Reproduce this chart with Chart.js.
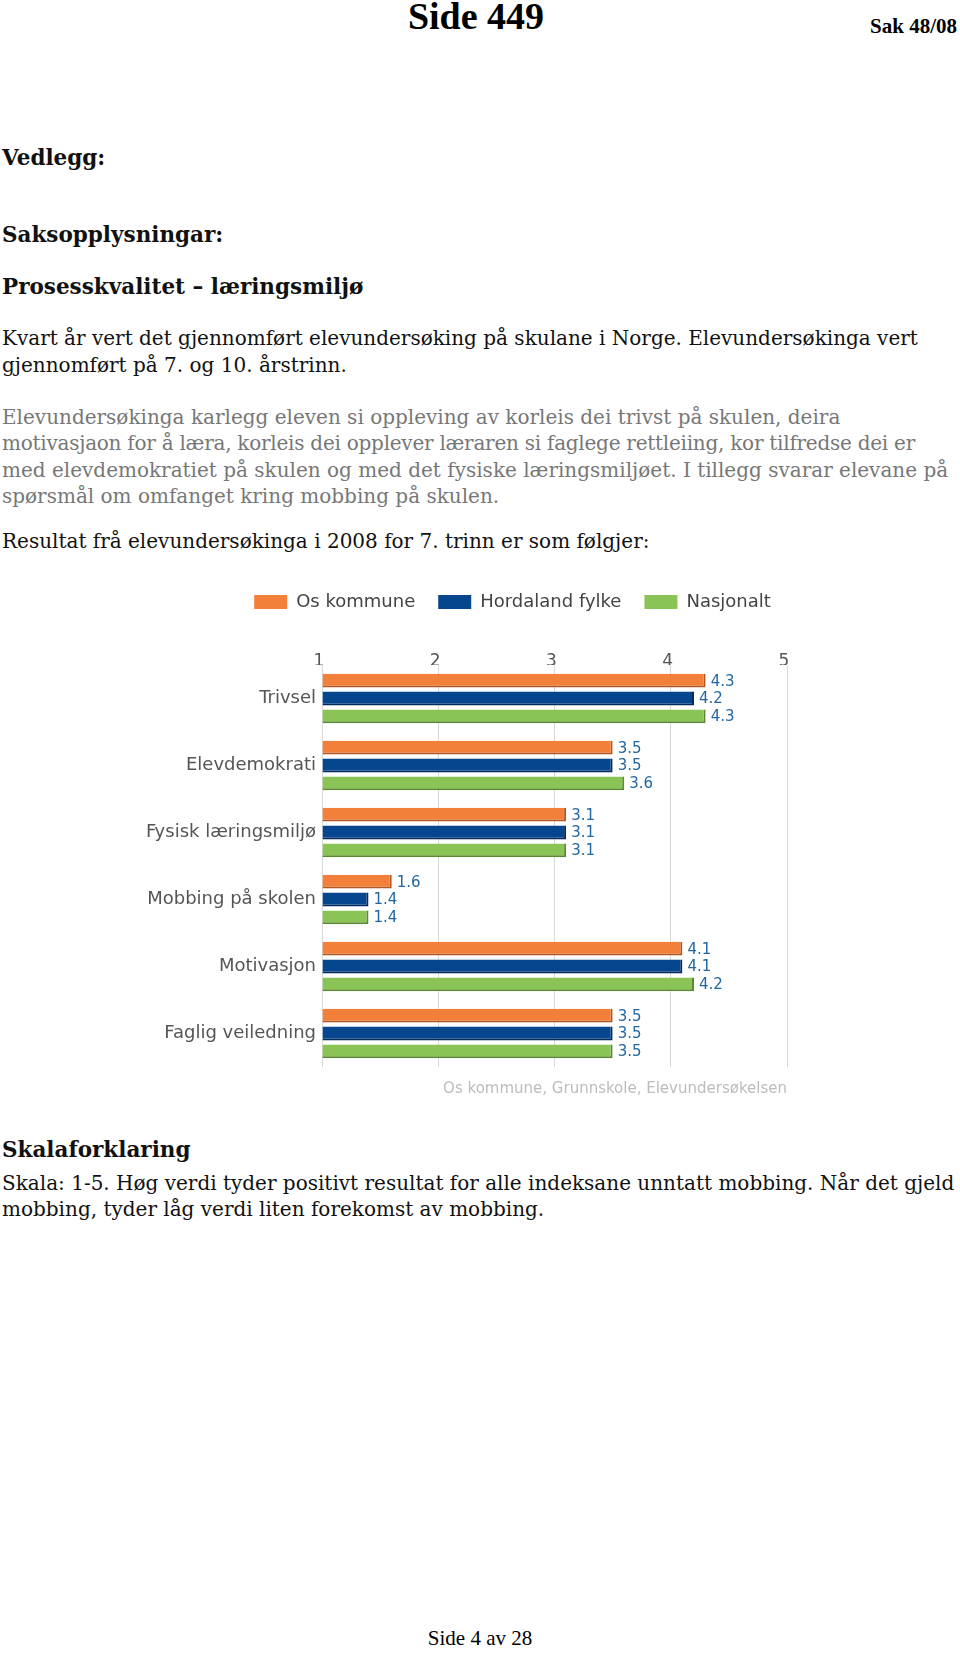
<!DOCTYPE html>
<html>
<head>
<meta charset="utf-8">
<script src="https://cdn.jsdelivr.net/npm/chart.js@4/dist/chart.umd.min.js"></script>
<style>
  html, body { margin: 0; padding: 0; background: #fff; }
  body { width: 960px; height: 1653px; position: relative; overflow: hidden; }
  .t { position: absolute; left: 2px; white-space: nowrap; font-family: "DejaVu Serif", serif; font-size: 20px; line-height: 26px; color: #111; }
  .b { font-weight: bold; font-size: 21.5px; }
  .g { color: #777; }
  .hdr { position: absolute; font-family: "Liberation Serif", serif; font-weight: bold; white-space: nowrap; color: #000; }
  #chartBox { position: absolute; left: 130px; top: 550px; width: 755px; height: 554px; }
</style>
</head>
<body>
<div class="hdr" style="left:0; width:952px; text-align:center; top:-6px; font-size:38px; line-height:44px;">Side 449</div>
<div class="hdr" style="right:3px; top:12px; font-size:21px; line-height:28px;">Sak 48/08</div>

<div class="t b" style="top:145px;">Vedlegg:</div>
<div class="t b" style="top:222px;">Saksopplysningar:</div>
<div class="t b" style="top:274px;">Prosesskvalitet – læringsmiljø</div>
<div class="t" style="top:325px;">Kvart år vert det gjennomført elevundersøking på skulane i Norge. Elevundersøkinga vert</div>
<div class="t" style="top:352px;">gjennomført på 7. og 10. årstrinn.</div>
<div class="t g" style="top:404px;">Elevundersøkinga karlegg eleven si oppleving av korleis dei trivst på skulen, deira</div>
<div class="t g" style="top:430px; letter-spacing:-0.25px;">motivasjaon for å læra, korleis dei opplever læraren si faglege rettleiing, kor tilfredse dei er</div>
<div class="t g" style="top:457px;">med elevdemokratiet på skulen og med det fysiske læringsmiljøet. I tillegg svarar elevane på</div>
<div class="t g" style="top:483px;">spørsmål om omfanget kring mobbing på skulen.</div>
<div class="t" style="top:528px;">Resultat frå elevundersøkinga i 2008 for 7. trinn er som følgjer:</div>

<div id="chartBox"><canvas id="c"></canvas></div>

<div class="t b" style="top:1137px;">Skalaforklaring</div>
<div class="t" style="top:1170px;">Skala: 1-5. Høg verdi tyder positivt resultat for alle indeksane unntatt mobbing. Når det gjeld</div>
<div class="t" style="top:1196px;">mobbing, tyder låg verdi liten forekomst av mobbing.</div>

<div style="position:absolute; left:0; width:960px; text-align:center; top:1624px; font-family:'Liberation Serif', serif; font-size:21px; line-height:28px;">Side 4 av 28</div>

<script>
const categories = ['Trivsel', 'Elevdemokrati', 'Fysisk læringsmiljø', 'Mobbing på skolen', 'Motivasjon', 'Faglig veiledning'];
const seriesNames = ['Os kommune', 'Hordaland fylke', 'Nasjonalt'];
const osKommune = [4.3, 3.5, 3.1, 1.6, 4.1, 3.5];
const hordalandFylke = [4.2, 3.5, 3.1, 1.4, 4.1, 3.5];
const nasjonalt = [4.3, 3.6, 3.1, 1.4, 4.2, 3.5];
const xTickValues = [1, 2, 3, 4, 5];
const sourceText = 'Os kommune, Grunnskole, Elevundersøkelsen';

const fills = ['#f2803b', '#05468e', '#8bc456'];
const edges = ['#b3561f', '#022a5c', '#5b8a33'];

const valueLabels = {
  id: 'valueLabels',
  afterDatasetsDraw(chart) {
    const ctx = chart.ctx;
    ctx.save();
    ctx.font = '15px "DejaVu Sans"';
    ctx.fillStyle = '#2367a2';
    ctx.textAlign = 'left';
    ctx.textBaseline = 'middle';
    chart.data.datasets.forEach((ds, di) => {
      const meta = chart.getDatasetMeta(di);
      meta.data.forEach((el, i) => {
        ctx.fillText(ds.data[i].toFixed(1), el.x + 5, el.y + 1);
      });
    });
    ctx.restore();
  }
};

const datasets = [osKommune, hordalandFylke, nasjonalt].map((vals, k) => ({
  label: seriesNames[k],
  data: vals,
  base: xTickValues[0],
  backgroundColor: fills[k],
  borderColor: edges[k],
  borderWidth: { top: 0, left: 0, right: 2, bottom: 2 },
  borderSkipped: false,
  categoryPercentage: 0.8,
  barPercentage: 0.77
}));

new Chart(document.getElementById('c'), {
  type: 'bar',
  data: { labels: categories, datasets },
  plugins: [valueLabels],
  options: {
    indexAxis: 'y',
    responsive: true,
    maintainAspectRatio: false,
    animation: false,
    events: [],
    layout: { padding: { top: 20, left: 10, right: 0, bottom: 0 } },
    plugins: {
      legend: {
        position: 'top',
        labels: {
          boxWidth: 33,
          boxHeight: 14,
          padding: 23,
          color: '#444',
          font: { family: 'DejaVu Sans', size: 18 },
          generateLabels(chart) {
            const items = Chart.defaults.plugins.legend.labels.generateLabels(chart);
            items.forEach(it => { it.lineWidth = 0; it.strokeStyle = 'rgba(0,0,0,0)'; });
            return items;
          }
        }
      },
      subtitle: {
        display: true,
        text: sourceText,
        position: 'bottom',
        align: 'end',
        fullSize: false,
        color: '#bcbcbc',
        font: { family: 'DejaVu Sans', size: 15, weight: 'normal' },
        padding: { top: 13, bottom: 6 }
      },
      tooltip: { enabled: false }
    },
    scales: {
      x: {
        type: 'linear',
        position: 'top',
        min: xTickValues[0],
        max: xTickValues[xTickValues.length - 1],
        afterBuildTicks(scale) { scale.ticks = xTickValues.map(v => ({ value: v })); },
        afterFit(scale) { scale.height = 44; },
        ticks: {
          color: '#555',
          font: { family: 'DejaVu Sans', size: 17 },
          padding: -7,
          labelOffset: -3
        },
        grid: { color: '#d9d9d9', drawTicks: false, lineWidth: 1 },
        border: { display: false }
      },
      y: {
        position: 'left',
        afterFit(scale) { scale.width = 182; },
        ticks: {
          color: '#555',
          font: { family: 'DejaVu Sans', size: 18 },
          padding: 6
        },
        grid: { display: false, drawTicks: false },
        border: { display: false }
      },
      yR: {
        type: 'category',
        position: 'right',
        afterFit(scale) { scale.width = 98; },
        ticks: { display: false },
        grid: { display: false, drawTicks: false },
        border: { display: false }
      }
    }
  }
});
</script>
</body>
</html>
